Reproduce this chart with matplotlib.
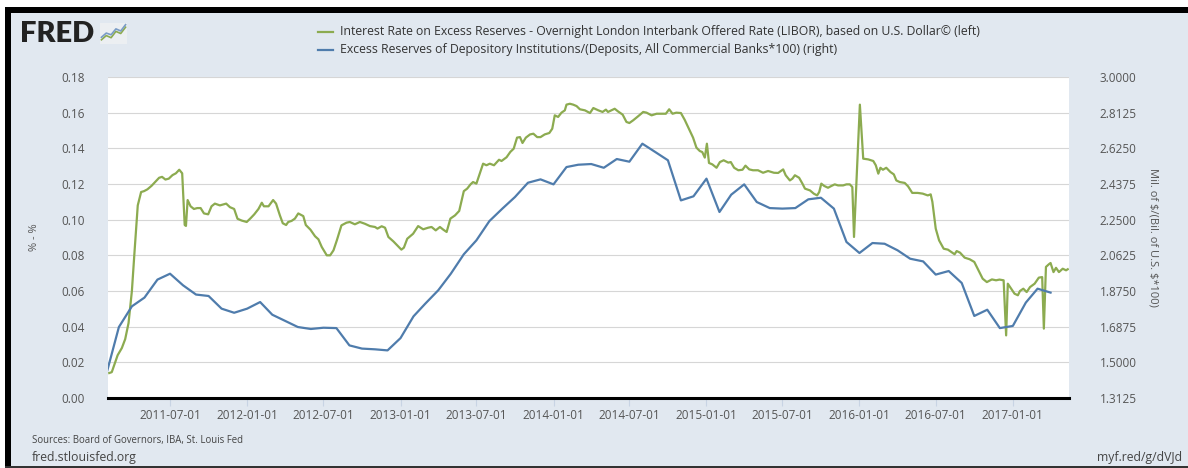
import matplotlib
matplotlib.use("Agg")
import matplotlib.pyplot as plt
import matplotlib.dates as mdates
from matplotlib.patches import Rectangle
import pandas as pd

plt.rcParams['font.family'] = ['Open Sans', 'DejaVu Sans']

# IOER - LIBOR (left axis, %)
green_dates = [
    "2011-02-06", "2011-02-12", "2011-02-20", "2011-02-26", "2011-03-08", "2011-03-16",
    "2011-03-24", "2011-04-01", "2011-04-07", "2011-04-15", "2011-04-23", "2011-04-30",
    "2011-05-08", "2011-05-18", "2011-05-26", "2011-06-05", "2011-06-12", "2011-06-20",
    "2011-06-28", "2011-07-07", "2011-07-15", "2011-07-23", "2011-07-30", "2011-08-05",
    "2011-08-08", "2011-08-12", "2011-08-19", "2011-08-27", "2011-09-04", "2011-09-12",
    "2011-09-20", "2011-09-30", "2011-10-08", "2011-10-16", "2011-10-28", "2011-11-12",
    "2011-11-21", "2011-12-01", "2011-12-09", "2011-12-19", "2011-12-31", "2012-01-10",
    "2012-01-18", "2012-01-28", "2012-02-05", "2012-02-10", "2012-02-21", "2012-03-03",
    "2012-03-10", "2012-03-19", "2012-03-26", "2012-04-03", "2012-04-08", "2012-04-16",
    "2012-04-24", "2012-05-02", "2012-05-14", "2012-05-20", "2012-05-31", "2012-06-11",
    "2012-06-19", "2012-06-27", "2012-07-09", "2012-07-17", "2012-07-25", "2012-08-02",
    "2012-08-13", "2012-08-25", "2012-09-02", "2012-09-14", "2012-09-26", "2012-10-08",
    "2012-10-20", "2012-11-01", "2012-11-07", "2012-11-17", "2012-11-25", "2012-12-03",
    "2012-12-15", "2012-12-24", "2013-01-03", "2013-01-09", "2013-01-17", "2013-01-31",
    "2013-02-12", "2013-02-24", "2013-03-08", "2013-03-16", "2013-03-26", "2013-04-05",
    "2013-04-13", "2013-04-21", "2013-04-30", "2013-05-11", "2013-05-21", "2013-06-01",
    "2013-06-09", "2013-06-17", "2013-06-23", "2013-07-01", "2013-07-09", "2013-07-17",
    "2013-07-25", "2013-08-02", "2013-08-12", "2013-08-24", "2013-08-30", "2013-09-11",
    "2013-09-20", "2013-09-28", "2013-10-06", "2013-10-13", "2013-10-19", "2013-10-27",
    "2013-11-06", "2013-11-14", "2013-11-23", "2013-12-01", "2013-12-11", "2013-12-22",
    "2013-12-29", "2014-01-04", "2014-01-12", "2014-01-20", "2014-01-28", "2014-02-01",
    "2014-02-09", "2014-02-17", "2014-02-25", "2014-03-05", "2014-03-17", "2014-03-29",
    "2014-04-06", "2014-04-18", "2014-04-28", "2014-05-06", "2014-05-11", "2014-05-27",
    "2014-06-04", "2014-06-15", "2014-06-24", "2014-07-01", "2014-07-10", "2014-07-22",
    "2014-08-03", "2014-08-11", "2014-08-23", "2014-09-04", "2014-09-16", "2014-09-26",
    "2014-10-04", "2014-10-12", "2014-10-21", "2014-11-01", "2014-11-10", "2014-11-22",
    "2014-11-30", "2014-12-08", "2014-12-16", "2014-12-22", "2014-12-28", "2015-01-02",
    "2015-01-07", "2015-01-15", "2015-01-25", "2015-02-02", "2015-02-11", "2015-02-22",
    "2015-02-28", "2015-03-08", "2015-03-18", "2015-03-28", "2015-04-04", "2015-04-13",
    "2015-04-22", "2015-05-04", "2015-05-16", "2015-05-28", "2015-06-11", "2015-06-21",
    "2015-07-03", "2015-07-09", "2015-07-19", "2015-07-25", "2015-07-31", "2015-08-10",
    "2015-08-18", "2015-08-24", "2015-09-05", "2015-09-14", "2015-09-22", "2015-09-27",
    "2015-10-02", "2015-10-09", "2015-10-18", "2015-10-26", "2015-11-03", "2015-11-11",
    "2015-11-23", "2015-12-01", "2015-12-09", "2015-12-15", "2015-12-19", "2016-01-02",
    "2016-01-10", "2016-01-22", "2016-02-03", "2016-02-09", "2016-02-15", "2016-02-20",
    "2016-02-26", "2016-03-05", "2016-03-15", "2016-03-23", "2016-03-29", "2016-04-06",
    "2016-04-18", "2016-04-26", "2016-05-06", "2016-05-19", "2016-05-31", "2016-06-12",
    "2016-06-19", "2016-06-23", "2016-07-01", "2016-07-09", "2016-07-20", "2016-07-30",
    "2016-08-07", "2016-08-15", "2016-08-20", "2016-08-28", "2016-09-08", "2016-09-20",
    "2016-10-01", "2016-10-09", "2016-10-21", "2016-10-31", "2016-11-12", "2016-11-22",
    "2016-11-30", "2016-12-10", "2016-12-16", "2016-12-20", "2016-12-28", "2017-01-05",
    "2017-01-13", "2017-01-18", "2017-01-26", "2017-02-03", "2017-02-11", "2017-02-22",
    "2017-03-04", "2017-03-12", "2017-03-16", "2017-03-21", "2017-03-28", "2017-04-01",
    "2017-04-08", "2017-04-14", "2017-04-21", "2017-04-30", "2017-05-08", "2017-05-12",
]
green_vals = [
    0.0140, 0.0145, 0.0200, 0.0240, 0.0280, 0.0330,
    0.0420, 0.0600, 0.0810, 0.1080, 0.1155, 0.1160,
    0.1170, 0.1190, 0.1210, 0.1235, 0.1240, 0.1225,
    0.1230, 0.1250, 0.1260, 0.1280, 0.1260, 0.0970,
    0.0965, 0.1110, 0.1075, 0.1060, 0.1065, 0.1065,
    0.1035, 0.1030, 0.1075, 0.1090, 0.1080, 0.1090,
    0.1070, 0.1060, 0.1005, 0.0995, 0.0987, 0.1010,
    0.1030, 0.1060, 0.1095, 0.1075, 0.1075, 0.1110,
    0.1090, 0.1025, 0.0980, 0.0970, 0.0987, 0.0993,
    0.1006, 0.1035, 0.1020, 0.0970, 0.0944, 0.0907,
    0.0890, 0.0847, 0.0800, 0.0800, 0.0828, 0.0884,
    0.0968, 0.0983, 0.0987, 0.0974, 0.0987, 0.0977,
    0.0964, 0.0959, 0.0950, 0.0963, 0.0955, 0.0903,
    0.0878, 0.0856, 0.0832, 0.0843, 0.0893, 0.0921,
    0.0964, 0.0946, 0.0955, 0.0959, 0.0940, 0.0959,
    0.0944, 0.0931, 0.1006, 0.1024, 0.1049, 0.1160,
    0.1174, 0.1198, 0.1211, 0.1202, 0.1258, 0.1314,
    0.1305, 0.1314, 0.1305, 0.1336, 0.1329, 0.1350,
    0.1380, 0.1398, 0.1460, 0.1463, 0.1430, 0.1460,
    0.1478, 0.1482, 0.1463, 0.1463, 0.1478, 0.1486,
    0.1510, 0.1585, 0.1576, 0.1600, 0.1613, 0.1645,
    0.1650, 0.1645, 0.1637, 0.1619, 0.1613, 0.1598,
    0.1626, 0.1613, 0.1604, 0.1617, 0.1604, 0.1622,
    0.1607, 0.1589, 0.1548, 0.1542, 0.1557, 0.1580,
    0.1604, 0.1600, 0.1585, 0.1594, 0.1594, 0.1594,
    0.1619, 0.1594, 0.1600, 0.1598, 0.1560, 0.1500,
    0.1460, 0.1404, 0.1385, 0.1379, 0.1348, 0.1426,
    0.1318, 0.1310, 0.1291, 0.1323, 0.1333, 0.1320,
    0.1323, 0.1291, 0.1277, 0.1280, 0.1303, 0.1282,
    0.1277, 0.1277, 0.1263, 0.1273, 0.1263, 0.1262,
    0.1282, 0.1249, 0.1220, 0.1230, 0.1249, 0.1235,
    0.1202, 0.1174, 0.1164, 0.1146, 0.1136, 0.1155,
    0.1202, 0.1189, 0.1179, 0.1189, 0.1198, 0.1192,
    0.1192, 0.1198, 0.1198, 0.1183, 0.0903, 0.1645,
    0.1342, 0.1338, 0.1329, 0.1305, 0.1258, 0.1291,
    0.1280, 0.1291, 0.1267, 0.1254, 0.1220, 0.1211,
    0.1206, 0.1187, 0.1150, 0.1150, 0.1146, 0.1136,
    0.1142, 0.1100, 0.0950, 0.0884, 0.0837, 0.0832,
    0.0819, 0.0806, 0.0824, 0.0815, 0.0787, 0.0778,
    0.0763, 0.0725, 0.0669, 0.0650, 0.0665, 0.0660,
    0.0664, 0.0660, 0.0351, 0.0641, 0.0613, 0.0585,
    0.0576, 0.0600, 0.0613, 0.0594, 0.0622, 0.0641,
    0.0675, 0.0678, 0.0389, 0.0735, 0.0750, 0.0757,
    0.0706, 0.0730, 0.0706, 0.0725, 0.0716, 0.0722,
]

# excess reserves / deposits (right axis), monthly from 2011-02
blue_start = "2011-02-01"
blue_vals = [
    1.4541, 1.6856, 1.7944, 1.8403, 1.9350, 1.9659, 1.9050, 1.8563, 1.8488, 1.7822, 1.7606,
    1.7822, 1.8169, 1.7503, 1.7175, 1.6856, 1.6753, 1.6819, 1.6800, 1.5891, 1.5722, 1.5684, 1.5628,
    1.6275, 1.7419, 1.8084, 1.8788, 1.9659, 2.0681, 2.1413, 2.2425, 2.3081, 2.3690, 2.4441, 2.4619,
    2.4356, 2.5266, 2.5388, 2.5425, 2.5228, 2.5688, 2.5547, 2.6494, 2.6053, 2.5622, 2.3513, 2.3728,
    2.4656, 2.2903, 2.3813, 2.4356, 2.3428, 2.3109, 2.3081, 2.3109, 2.3569, 2.3653, 2.3081, 2.1328,
    2.0747, 2.1272, 2.1234, 2.0888, 2.0447, 2.0306, 1.9613, 1.9800, 1.9172, 1.7438, 1.7766, 1.6800,
    1.6913, 1.8141, 1.8872, 1.8666,
]

left_ticks = [0.00, 0.02, 0.04, 0.06, 0.08, 0.10, 0.12, 0.14, 0.16, 0.18]
right_ticks = [1.3125, 1.5, 1.6875, 1.875, 2.0625, 2.25, 2.4375, 2.625, 2.8125, 3.0]
x_ticks = ["2011-07-01", "2012-01-01", "2012-07-01", "2013-01-01", "2013-07-01", "2014-01-01",
           "2014-07-01", "2015-01-01", "2015-07-01", "2016-01-01", "2016-07-01", "2017-01-01"]

green_label = "Interest Rate on Excess Reserves - Overnight London Interbank Offered Rate (LIBOR), based on U.S. Dollar\u00a9 (left)"
blue_label = "Excess Reserves of Depository Institutions/(Deposits, All Commercial Banks*100) (right)"

green = '#8cab50'
blue = '#4f7cac'
bg = '#e1e8f0'
txt = '#555555'

gd = pd.to_datetime(green_dates)
bd = pd.date_range(blue_start, periods=len(blue_vals), freq='MS')

fig = plt.figure(figsize=(11.88, 4.68), dpi=100)
fig.patch.set_facecolor('white')

# panel + frame
fig.patches.append(Rectangle((11/1188, 2/468), 1 - 11/1188, 453/468, transform=fig.transFigure,
                             facecolor=bg, edgecolor='none', zorder=-5))
fig.patches.append(Rectangle((5/1188, 455/468), 1 - 5/1188, 6/468, transform=fig.transFigure,
                             facecolor='black', edgecolor='none', zorder=-4))
fig.patches.append(Rectangle((5/1188, 0), 6/1188, 461/468, transform=fig.transFigure,
                             facecolor='black', edgecolor='none', zorder=-4))
fig.patches.append(Rectangle((5/1188, 0), 1 - 5/1188, 2/468, transform=fig.transFigure,
                             facecolor='#333333', edgecolor='none', zorder=-4))

ax = fig.add_axes([108/1188, 1 - 398/468, (1069 - 108)/1188, (398 - 77)/468])
ax.set_facecolor('white')
ax.plot(gd, green_vals, color=green, lw=1.6, zorder=3)
ax.set_ylim(0, 0.18)
ax.set_yticks(left_ticks)
ax.set_yticklabels(["%.2f" % t for t in left_ticks])
ax.grid(axis='y', color='#d6d6d6', lw=0.8)
ax.set_axisbelow(True)
for s in ['top', 'right', 'left']:
    ax.spines[s].set_visible(False)
ax.spines['bottom'].set_color('black')
ax.spines['bottom'].set_linewidth(2.2)
ax.tick_params(axis='y', length=0, pad=17, labelsize=8.5, labelcolor=txt)
ax.set_ylabel("% - %", fontsize=8, color=txt, labelpad=15)

ax.set_xlim(pd.Timestamp("2011-02-03"), pd.Timestamp("2017-05-15"))
ax.set_xticks(pd.to_datetime(x_ticks))
ax.xaxis.set_major_formatter(mdates.DateFormatter('%Y-%m-%d'))
ax.tick_params(axis='x', length=6, width=0.8, color='#c8d4e4', pad=2, labelsize=8.5, labelcolor=txt)

ax2 = ax.twinx()
ax2.plot(bd, blue_vals, color=blue, lw=1.6, zorder=3)
ax2.set_ylim(1.3125, 3.0)
ax2.set_yticks(right_ticks)
ax2.set_yticklabels(["%.4f" % t for t in right_ticks])
for s in ['top', 'right', 'left', 'bottom']:
    ax2.spines[s].set_visible(False)
ax2.tick_params(axis='y', length=0, pad=22, labelsize=8.5, labelcolor=txt)
ax2.set_ylabel("Mil. of \\$/(Bil. of U.S. \\$*100)", fontsize=8, color=txt, rotation=270, labelpad=16)

# legend
fig.add_artist(plt.Line2D([318/1188, 333/1188], [1 - 32/468] * 2, color=green, lw=1.6))
fig.add_artist(plt.Line2D([318/1188, 333/1188], [1 - 50/468] * 2, color=blue, lw=1.6))
fig.text(340/1188, 1 - 32/468, green_label, fontsize=8.8, color='#333333', va='center')
fig.text(340/1188, 1 - 50/468, blue_label, fontsize=8.8, color='#333333', va='center')

# FRED logo
fig.text(20/1188, 1 - 34/468, "FRED", fontsize=21, fontweight='heavy', family='Lato',
         color='#222222', va='center')
logo = fig.add_axes([100/1188, 1 - 44/468, 27/1188, 21/468])
logo.set_facecolor('#eceff2')
logo.plot([0, 1, 2, 3, 4, 5], [1, 2, 1.5, 3, 2.5, 4], color=green, lw=1.2)
logo.plot([0, 1, 2, 3, 4, 5], [1.6, 2.6, 2.2, 3.6, 3.1, 4.6], color='#7a9cc6', lw=1.2)
logo.set_xlim(-0.3, 5.3)
logo.set_ylim(0, 5)
logo.set_xticks([])
logo.set_yticks([])
for s in logo.spines.values():
    s.set_visible(False)

# footer
fig.text(32/1188, 1 - 440/468, "Sources: Board of Governors, IBA, St. Louis Fed", fontsize=6.9,
         color='#444444', va='center')
fig.text(32/1188, 1 - 458/468, "fred.stlouisfed.org", fontsize=8.8, color='#444444', va='center')
fig.text(1182/1188, 1 - 458/468, "myf.red/g/dVJd", fontsize=8.8, color='#444444', va='center', ha='right')

fig.savefig("out.png", dpi=100, facecolor=fig.get_facecolor())
